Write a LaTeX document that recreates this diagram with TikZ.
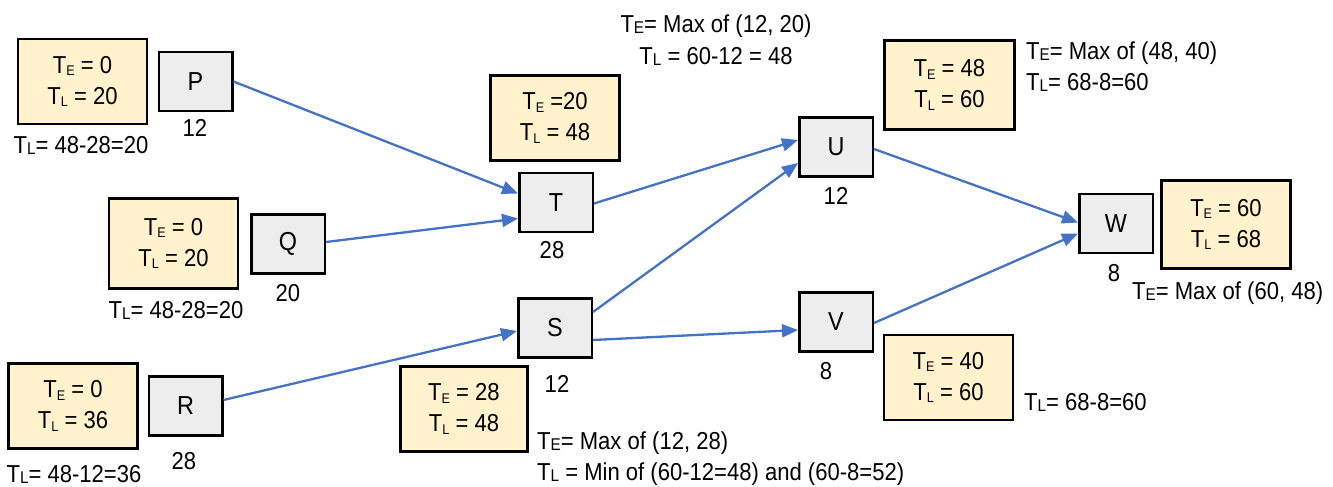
\documentclass[tikz,border=0pt]{standalone}
\usepackage{fontspec}
\setmainfont{Liberation Sans}[FakeStretch=0.9]
\usetikzlibrary{arrows.meta,calc}
\definecolor{boxyellow}{HTML}{FFF2CC}
\definecolor{boxgray}{HTML}{EDEDED}
\definecolor{arrowblue}{HTML}{4472C4}
\newcommand\bE{\raisebox{-2.5pt}{\fontsize{14}{14}\selectfont E}}
\newcommand\bL{\raisebox{-2.5pt}{\fontsize{14}{14}\selectfont L}}
\newcommand\lE{\raisebox{-1pt}{\fontsize{17}{17}\selectfont E}}
\newcommand\lL{\raisebox{-1pt}{\fontsize{17}{17}\selectfont L}}
\begin{document}
\begin{tikzpicture}[x=1pt,y=-1pt,
  every node/.style={font=\fontsize{24.5}{31}\selectfont, inner sep=0pt},
  gbox/.style={draw=black, line width=2.5pt, fill=boxgray, minimum width=73.5pt, minimum height=59pt, font=\fontsize{26}{30}\selectfont},
  ybox/.style={draw=black, line width=2.5pt, fill=boxyellow, align=center, minimum width=129pt, minimum height=85pt},
  arr/.style={draw=arrowblue, line width=2.3pt, -{Triangle[length=16pt,width=13pt]}},
  lbl/.style={anchor=west, align=left, font=\fontsize{24.5}{31}\selectfont},
  clbl/.style={align=center, font=\fontsize{24.5}{32}\selectfont}]
\useasboundingbox (0,0) rectangle (1333,487);

% yellow boxes
\node[ybox] (yP) at (82.5,81.5) {T\bE{} = 0\\T\bL{} = 20};
\node[ybox, minimum height=90pt] (yQ) at (173.5,243.5) {T\bE{} = 0\\T\bL{} = 20};
\node[ybox] (yR) at (73,406) {T\bE{} = 0\\T\bL{} = 36};
\node[ybox] (yT) at (555,118) {T\bE{} =20\\T\bL{} = 48};
\node[ybox, minimum height=89pt, minimum width=130pt] (yU) at (949.5,85) {T\bE{} = 48\\T\bL{} = 60};
\node[ybox, minimum width=127pt] (yS) at (464,409) {T\bE{} = 28\\T\bL{} = 48};
\node[ybox] (yV) at (948.5,377.5) {T\bE{} = 40\\T\bL{} = 60};
\node[ybox, minimum height=88pt] (yW) at (1226,224.5) {T\bE{} = 60\\T\bL{} = 68};

% gray activity boxes
\node[gbox] (P) at (195.5,81.5) {P};
\node[gbox] (Q) at (288,244) {Q};
\node[gbox] (R) at (185.5,406) {R};
\node[gbox] (T) at (556,202.5) {T};
\node[gbox] (U) at (836,147) {U};
\node[gbox] (S) at (555,328) {S};
\node[gbox] (V) at (836,322) {V};
\node[gbox] (W) at (1116,223.5) {W};

% durations
\node (dP) at (195,128) {12};
\node (dQ) at (288,293) {20};
\node (dR) at (184,461) {28};
\node (dT) at (552,250) {28};
\node (dU) at (836,196) {12};
\node (dS) at (557,384) {12};
\node (dV) at (826,371) {8};
\node (dW) at (1114,273) {8};

% calculation labels
\node (cP) at (81,145) {T\lL= 48-28=20};
\node (cQ) at (176,310) {T\lL= 48-28=20};
\node (cR) at (74,474) {T\lL= 48-12=36};
\node[clbl] (cT) at (716,40) {T\lE= Max of (12, 20)\\T\lL{} = 60-12 = 48};
\node[lbl] (cU) at (1026,67) {T\lE= Max of (48, 40)\\T\lL= 68-8=60};
\node[lbl] (cS) at (537,459) {T\lE= Max of (12, 28)\\T\lL{} = Min of (60-12=48) and (60-8=52)};
\node[lbl] (cV) at (1024,402) {T\lL= 68-8=60};
\node[lbl] (cW) at (1132,293) {T\lE= Max of (60, 48)};

% connectors
\draw[arr] (P.east) -- ($(T.west)+(0,-9)$);
\draw[arr] ($(Q.east)+(0,-2)$) -- ($(T.west)+(0,16)$);
\draw[arr] ($(T.east)+(0,1)$) -- ($(U.west)+(0,-7)$);
\draw[arr] ($(S.east)+(0,-16)$) -- ($(U.west)+(0,16)$);
\draw[arr] ($(R.east)+(0,-6)$) -- ($(S.west)+(0,3)$);
\draw[arr] ($(S.east)+(0,12)$) -- ($(V.west)+(0,8)$);
\draw[arr] ($(U.east)+(0,2)$) -- ($(W.west)+(0,-1)$);
\draw[arr] ($(V.east)+(0,1)$) -- ($(W.west)+(0,10)$);
\end{tikzpicture}
\end{document}
